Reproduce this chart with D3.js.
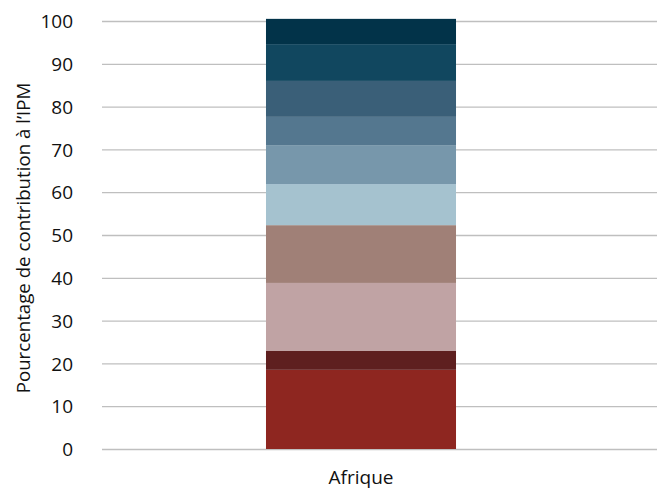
<!DOCTYPE html>
<html><head><meta charset="utf-8">
<script src="https://cdn.jsdelivr.net/npm/d3@7"></script>
<style>body{margin:0;background:#fff}svg{display:block}text{font-family:"Open Sans",sans-serif;fill:#111}</style>
</head><body><svg id="c" width="662" height="489"></svg>
<script>
const categories = ["Afrique"];
const segmentValues = [18.5, 4.4, 15.9, 13.5, 9.6, 9.1, 6.6, 8.4, 8.6, 5.9];
const segmentColors = ["#8E2620", "#5E1F1F", "#C0A3A4", "#A08077", "#A5C2CF", "#7797AB", "#54778F", "#3A5F78", "#11475F", "#023349"];
const yTicks = [0, 10, 20, 30, 40, 50, 60, 70, 80, 90, 100];
const yTitle = "Pourcentage de contribution à l’IPM";

const svg = d3.select("#c");
const gridX0 = 102, gridX1 = 657;
const y = d3.scaleLinear().domain([0, 100]).range([449, 21]);
const x = d3.scaleBand().domain(categories).range([102, 620]).paddingInner(0).paddingOuter(0.863);

// gridlines
svg.append("g").selectAll("line").data(yTicks).join("line")
  .attr("x1", gridX0).attr("x2", gridX1)
  .attr("y1", d => y(d) + 0.5).attr("y2", d => y(d) + 0.5)
  .attr("stroke", "#BFBFBF").attr("stroke-width", 1.3);

// y axis labels
const yAxis = d3.axisLeft(y).tickValues(yTicks).tickSize(0).tickPadding(0);
const ga = svg.append("g").attr("transform", "translate(73,0)").call(yAxis);
ga.attr("font-size", null).attr("font-family", null);
ga.select(".domain").remove();
ga.selectAll("text").style("font-size", "19px").attr("dy", "0.35em");

// stacked bar
let cum = 0;
const stackData = segmentValues.map((v, i) => { const s = { y0: cum, y1: cum + v, c: segmentColors[i] }; cum += v; return s; });
svg.append("g").selectAll("rect").data(stackData).join("rect")
  .attr("x", x(categories[0])).attr("width", x.bandwidth())
  .attr("y", d => y(d.y1)).attr("height", d => y(d.y0) - y(d.y1))
  .attr("fill", d => d.c);

// x axis label
const xAxis = d3.axisBottom(x).tickSize(0).tickPadding(0);
const gx = svg.append("g").attr("transform", "translate(0,483.5)").call(xAxis);
gx.attr("font-size", null).attr("font-family", null);
gx.select(".domain").remove();
gx.selectAll("text").style("font-size", "19px").attr("dy", "0").attr("y", 0);

// y title
svg.append("text").attr("transform", "translate(30,238) rotate(-90)")
  .attr("text-anchor", "middle").style("font-size", "18.7px").text(yTitle);
</script></body></html>
